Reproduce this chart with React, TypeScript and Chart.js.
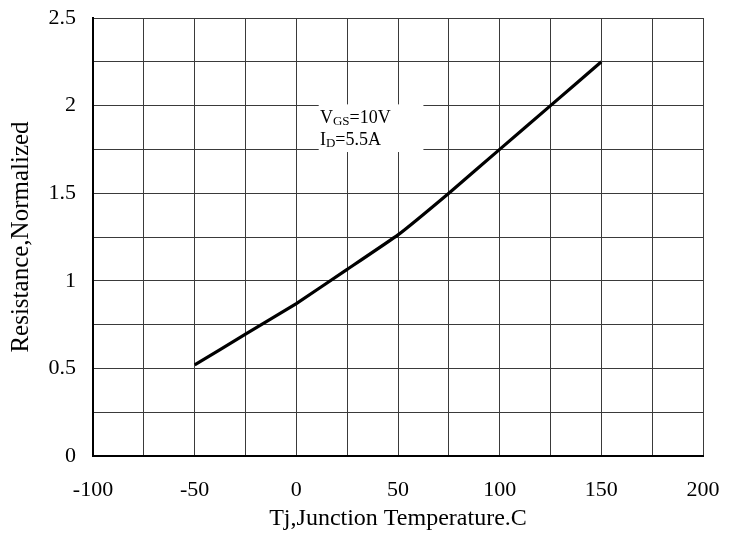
import React, { useEffect, useRef } from "react";
import { Chart, registerables } from "chart.js";

Chart.register(...registerables);

// Data
const temperatures = [-50, -25, 0, 25, 50, 75, 100, 125, 150];
const resistance = [0.52, 0.695, 0.87, 1.065, 1.262, 1.5, 1.75, 2.0, 2.25];

const xTickLabels = [-100, -50, 0, 50, 100, 150, 200];
const yTickLabels = [0, 0.5, 1, 1.5, 2, 2.5];

const xTitle = "Tj,Junction Temperature.C";
const yTitle = "Resistance,Normalized";

const noteLines = [
  { main: "V", sub: "GS", rest: "=10V" },
  { main: "I", sub: "D", rest: "=5.5A" },
];

const FONT = "'Liberation Serif', 'Times New Roman', serif";

const notePlugin = {
  id: "notePlugin",
  beforeDatasetsDraw(chart: any) {
    const { ctx, scales } = chart;
    const xs = scales.x;
    const ys = scales.y;
    const left = xs.getPixelForValue(11);
    const right = xs.getPixelForValue(62.5);
    const top = ys.getPixelForValue(2.007);
    const bottom = ys.getPixelForValue(1.735);
    ctx.save();
    ctx.fillStyle = "#ffffff";
    ctx.fillRect(left, top, right - left, bottom - top);
    ctx.fillStyle = "#000";
    ctx.textBaseline = "alphabetic";
    ctx.textAlign = "left";
    const baselines = [1.899, 1.775];
    noteLines.forEach((ln, i) => {
      let x = xs.getPixelForValue(11.6);
      const y = ys.getPixelForValue(baselines[i]);
      ctx.font = `18px ${FONT}`;
      ctx.fillText(ln.main, x, y);
      x += ctx.measureText(ln.main).width;
      ctx.font = `13px ${FONT}`;
      ctx.fillText(ln.sub, x, y + 2);
      x += ctx.measureText(ln.sub).width;
      ctx.font = `18px ${FONT}`;
      ctx.fillText(ln.rest, x, y);
    });
    ctx.restore();
  },
};

export default function App() {
  const ref = useRef<HTMLCanvasElement | null>(null);
  useEffect(() => {
    document.body.style.margin = "0";
    const canvas = ref.current;
    if (!canvas) return;
    const chart = new Chart(canvas, {
      type: "line",
      data: {
        datasets: [
          {
            data: temperatures.map((t, i) => ({ x: t, y: resistance[i] })),
            borderColor: "#000",
            borderWidth: 3.2,
            pointRadius: 0,
            tension: 0.1,
            fill: false,
          },
        ],
      },
      options: {
        responsive: false,
        animation: false,
        layout: { padding: { top: 18, right: 39, left: 0, bottom: 0 } },
        plugins: {
          legend: { display: false },
          tooltip: { enabled: false },
        },
        scales: {
          x: {
            type: "linear",
            min: -100,
            max: 200,
            afterFit: (s: any) => {
              s.height = 78;
            },
            ticks: {
              stepSize: 25,
              autoSkip: false,
              maxRotation: 0,
              padding: 21,
              color: "#000",
              font: { family: FONT, size: 22 },
              callback: (v: any) => (xTickLabels.includes(Number(v)) ? String(v) : ""),
            },
            grid: { color: "#3a3a3a", lineWidth: 1, drawTicks: false },
            border: { color: "#000", width: 2 },
            title: {
              display: true,
              text: xTitle,
              color: "#000",
              font: { family: FONT, size: 24 },
              padding: { top: 0, bottom: 1 },
            },
          },
          y: {
            min: 0,
            max: 2.5,
            afterFit: (s: any) => {
              s.width = 93;
              s.paddingTop = 0;
              s.paddingBottom = 0;
            },
            ticks: {
              stepSize: 0.25,
              autoSkip: false,
              padding: 17,
              color: "#000",
              font: { family: FONT, size: 22 },
              callback: (v: any) => (yTickLabels.includes(Number(v)) ? String(v) : ""),
            },
            grid: { color: "#3a3a3a", lineWidth: 1, drawTicks: false },
            border: { color: "#000", width: 2 },
            title: {
              display: true,
              text: yTitle,
              color: "#000",
              font: { family: FONT, size: 25 },
              padding: { top: 6, bottom: 0 },
            },
          },
        },
      },
      plugins: [notePlugin],
    });
    return () => chart.destroy();
  }, []);
  return <canvas ref={ref} width={742} height={534} style={{ display: "block" }} />;
}
